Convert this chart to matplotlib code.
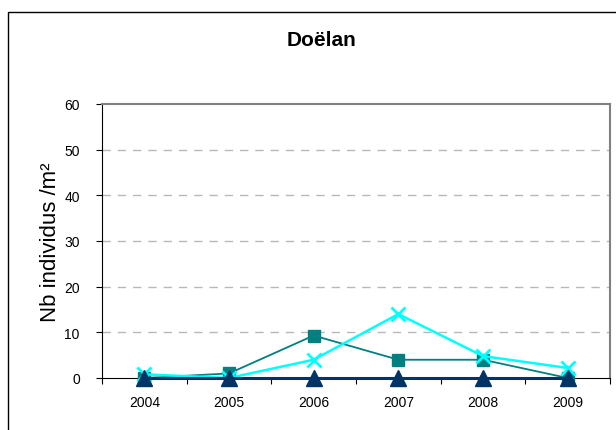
import matplotlib
matplotlib.use("Agg")
import matplotlib.pyplot as plt
from matplotlib.patches import Rectangle

years = ["2004", "2005", "2006", "2007", "2008", "2009"]
teal_sq = [0, 1, 9.3, 4, 4, 0]
cyan_x = [0.8, 0, 4, 14, 4.8, 2.2]
navy_tri = [0, 0, 0, 0, 0, 0]
yticks = [0, 10, 20, 30, 40, 50, 60]

plt.rcParams['font.family'] = ['Liberation Sans', 'DejaVu Sans']

W, H = 616, 431
fig = plt.figure(figsize=(W/100, H/100), dpi=100)
fig.patches.append(Rectangle((8/W, -0.1), 1.0, 1 - 13/H + 0.1, transform=fig.transFigure,
                             fill=False, edgecolor='black', linewidth=1.0))
ax = fig.add_axes([102/W, 1 - 379/H, (610-102)/W, (379-105)/H])

x = list(range(len(years)))
ax.plot(x, teal_sq, color='#008080', marker='s', markersize=8, linewidth=1.3, zorder=3, clip_on=False)
ax.plot(x, cyan_x, color='#00FFFF', marker='x', markersize=10, markeredgewidth=2.0, linewidth=1.8, zorder=4, clip_on=False)
ax.plot(x, navy_tri, color='#003366', marker='^', markersize=11, linewidth=2.2, zorder=5, clip_on=False)

ax.set_xlim(-0.5, len(years) - 0.5)
ax.set_ylim(0, 60)
ax.set_yticks(yticks)
ax.set_yticklabels([str(v) for v in yticks], fontsize=10)
ax.set_xticks([i - 0.5 for i in range(len(years) + 1)])
ax.set_xticklabels([])
ax.set_xticks(x, minor=True)
ax.set_xticklabels(years, minor=True, fontsize=10)
ax.tick_params(axis='x', which='minor', length=0, pad=12)
ax.tick_params(axis='x', which='major', direction='out', length=4)
ax.tick_params(axis='y', direction='out', length=4, pad=12)

for v in yticks[1:-1]:
    ax.axhline(v, color='#b8b8b8', linestyle=(0, (6, 5)), linewidth=1.0, zorder=1)

ax.spines['left'].set_color('black')
ax.spines['bottom'].set_color('black')
ax.spines['top'].set_color('#808080')
ax.spines['right'].set_color('#808080')
ax.spines['top'].set_linewidth(1.5)
ax.spines['right'].set_linewidth(1.5)

ax.set_ylabel("Nb individus /m²", fontsize=16, labelpad=2)
fig.text(321/W, 1 - 41/H, "Doëlan", ha='center', va='center', fontsize=15, fontweight='bold')

fig.savefig("out.png", dpi=100)
